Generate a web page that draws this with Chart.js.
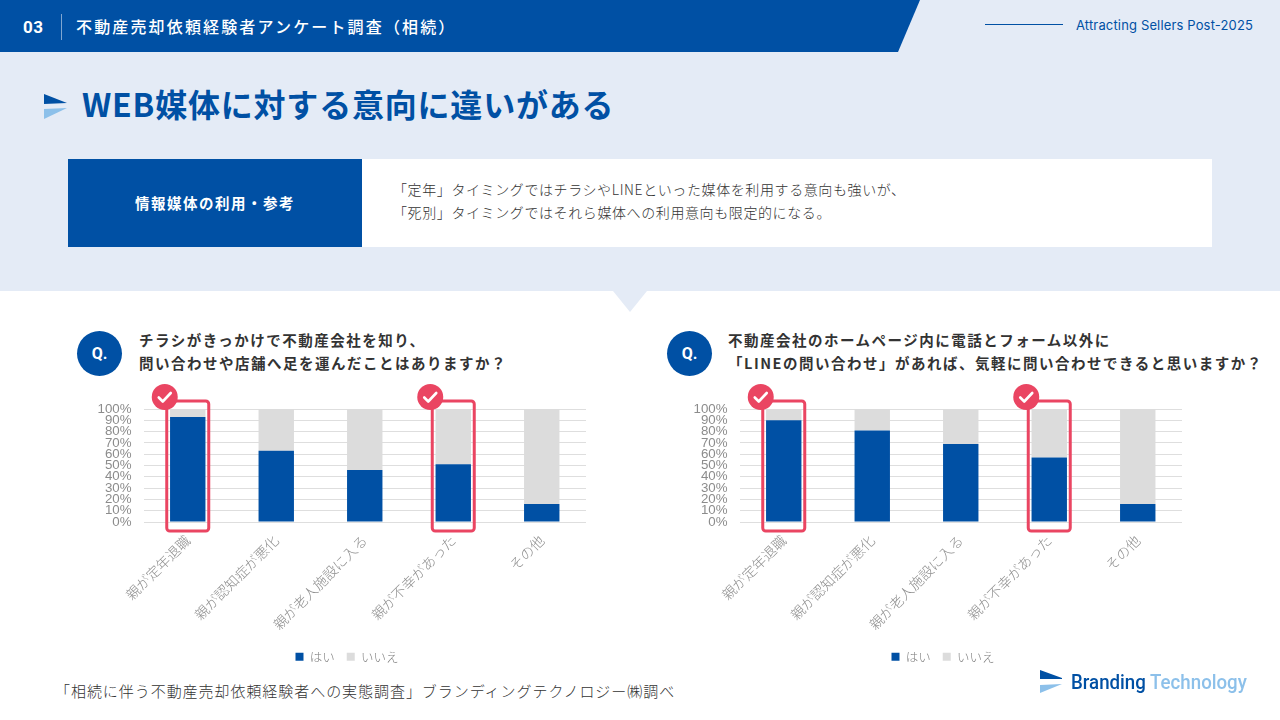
<!DOCTYPE html>
<html lang="ja">
<head>
<meta charset="utf-8">
<title>WEB媒体に対する意向に違いがある</title>
<script src="https://cdn.jsdelivr.net/npm/chart.js@4"></script>
<style>
html, body { margin: 0; padding: 0; }
body { width: 1280px; height: 720px; position: relative; overflow: hidden; background: #fff; font-family: "Noto Sans CJK JP", "Noto Sans", sans-serif; color: #333; }
.abs { position: absolute; white-space: nowrap; }
#top { left: 0; top: 0; width: 1280px; height: 291px; background: #e4ebf6; }
#notch { left: 613px; top: 291px; width: 34px; height: 21px; background: #e4ebf6; clip-path: polygon(0 0, 100% 0, 50% 100%); }
#bar { left: 0; top: 0; width: 920px; height: 52px; background: #0050a4; clip-path: polygon(0 0, 100% 0, 898px 100%, 0 100%); }
#num { left: 23px; top: 15px; font: bold 17px/24px "Roboto", sans-serif; color: #fff; letter-spacing: 0.5px; }
#sep { left: 61px; top: 14px; width: 1px; height: 26px; background: #7fa6d1; }
#head { left: 76px; top: 13px; font-weight: 500; font-size: 16px; line-height: 26px; color: #fff; letter-spacing: 2.15px; }
#rule { left: 985px; top: 24px; width: 78px; height: 1px; background: #0050a4; }
#tag { left: 1076px; top: 15px; font: 13px/20px "Inter", sans-serif; color: #0050a4; letter-spacing: 0.15px; }
#title { left: 82px; top: 79px; font-weight: 700; font-size: 32px; line-height: 48px; color: #0050a4; letter-spacing: 0.8px; }
#box { left: 68px; top: 159px; width: 1144px; height: 88px; background: #fff; }
#boxhead { left: 68px; top: 159px; width: 294px; height: 88px; background: #0050a4; color: #fff; font-weight: 700; font-size: 14.5px; line-height: 88px; text-align: center; letter-spacing: 1.5px; }
#boxtext { left: 393px; top: 178px; font-size: 14px; line-height: 23px; color: #333; font-weight: 300; letter-spacing: 0.6px; }
.q { width: 45px; height: 45px; top: 331px; border-radius: 50%; background: #0050a4; color: #fff; font: bold 16px/45px "Roboto", sans-serif; text-align: center; }
.ask { top: 328px; font-weight: 700; font-size: 14.5px; line-height: 23px; color: #333; letter-spacing: 1.5px; }
canvas { position: absolute; top: 378px; }
#note { left: 55px; top: 680px; font-size: 15px; line-height: 22px; color: #333; font-weight: 300; letter-spacing: 0.95px; }
#logotext { left: 1071px; top: 668px; font: 500 21px/28px "Roboto", sans-serif; color: #0050a4; transform: scaleX(0.89); transform-origin: left center; }
#logotext span { color: #8cc0ea; }
</style>
</head>
<body>
<div class="abs" id="top"></div>
<div class="abs" id="notch"></div>
<div class="abs" id="bar"></div>
<div class="abs" id="num">03</div>
<div class="abs" id="sep"></div>
<div class="abs" id="head">不動産売却依頼経験者アンケート調査（相続）</div>
<div class="abs" id="rule"></div>
<div class="abs" id="tag">Attracting Sellers Post-2025</div>

<svg class="abs" style="left:43px;top:92px" width="26" height="28" viewBox="0 0 26 28">
  <polygon points="1,2 24,11 1,12" fill="#0050a4"/>
  <polygon points="1,17 24,16 1,27" fill="#8cc0ea"/>
</svg>
<div class="abs" id="title">WEB媒体に対する意向に違いがある</div>

<div class="abs" id="box"></div>
<div class="abs" id="boxhead">情報媒体の利用・参考</div>
<div class="abs" id="boxtext">「定年」タイミングではチラシやLINEといった媒体を利用する意向も強いが、<br>「死別」タイミングではそれら媒体への利用意向も限定的になる。</div>

<div class="abs q" style="left:77px">Q.</div>
<div class="abs ask" style="left:139px">チラシがきっかけで不動産会社を知り、<br>問い合わせや店舗へ足を運んだことはありますか？</div>
<div class="abs q" style="left:667px">Q.</div>
<div class="abs ask" style="left:728px">不動産会社のホームページ内に電話とフォーム以外に<br>「LINEの問い合わせ」があれば、気軽に問い合わせできると思いますか？</div>

<canvas id="chartLeft" width="519" height="295" style="left:87px"></canvas>
<canvas id="chartRight" width="519" height="295" style="left:683px"></canvas>

<div class="abs" id="note">「相続に伴う不動産売却依頼経験者への実態調査」ブランディングテクノロジー㈱調べ</div>
<svg class="abs" style="left:1040px;top:669px" width="24" height="26" viewBox="0 0 24 26">
  <polygon points="0,1 22,9 22,10 0,10" fill="#0050a4"/>
  <polygon points="0,16 22,15 0,24" fill="#8cc0ea"/>
</svg>
<div class="abs" id="logotext">Branding <span>Technology</span></div>

<script>
const categories = ["親が定年退職", "親が認知症が悪化", "親が老人施設に入る", "親が不幸があった", "その他"];
const yTicks = [0, 10, 20, 30, 40, 50, 60, 70, 80, 90, 100];
const seriesNames = ["はい", "いいえ"];

const flyerYes = [93, 63, 46, 51, 16];
const flyerNo = [7, 37, 54, 49, 84];
const lineYes = [90, 81, 69, 57, 16];
const lineNo = [10, 19, 31, 43, 84];

// categories that get the red frame
const highlighted = [0, 3];

const BLUE = "#0050a4";
const GREY = "#dcdcdc";
const RED = "#ea4562";

// Frame and check badge around the highlighted bars
const framePlugin = {
    id: "frame",
    afterLayout(chart) {
        // legend sits centred under the whole block, not under the padded box
        chart.legend.left += 8;
        chart.legend.right += 8;
    },
    afterDatasetsDraw(chart) {
        const ctx = chart.ctx;
        const xScale = chart.scales.x;
        const top = chart.scales.y.getPixelForValue(100) - 8;
        const bottom = chart.scales.y.getPixelForValue(0) + 9;

        highlighted.forEach(index => {
            const center = xScale.getPixelForValue(index);

            ctx.save();
            ctx.strokeStyle = RED;
            ctx.lineWidth = 3;
            ctx.beginPath();
            ctx.roundRect(center - 21, top, 42, bottom - top, 3);
            ctx.stroke();

            const badgeX = center - 23;
            const badgeY = top - 4;
            ctx.fillStyle = RED;
            ctx.beginPath();
            ctx.arc(badgeX, badgeY, 13, 0, Math.PI * 2);
            ctx.fill();

            ctx.strokeStyle = "#fff";
            ctx.lineWidth = 2.6;
            ctx.lineCap = "round";
            ctx.lineJoin = "round";
            ctx.beginPath();
            ctx.moveTo(badgeX - 6, badgeY + 0.5);
            ctx.lineTo(badgeX - 2, badgeY + 4.5);
            ctx.lineTo(badgeX + 6, badgeY - 4);
            ctx.stroke();
            ctx.restore();
        });
    }
};

function makeChart(id, yesValues, noValues) {
    return new Chart(document.getElementById(id), {
        type: "bar",
        data: {
            labels: categories,
            datasets: [
                { label: seriesNames[0], data: yesValues, backgroundColor: BLUE },
                { label: seriesNames[1], data: noValues, backgroundColor: GREY }
            ]
        },
        options: {
            responsive: false,
            animation: false,
            devicePixelRatio: 1,
            barPercentage: 0.4,
            categoryPercentage: 1,
            layout: { padding: { top: 31, right: 20, left: 5, bottom: 0 } },
            plugins: {
                tooltip: { enabled: false },
                legend: {
                    position: "bottom",
                    labels: {
                        boxWidth: 8,
                        boxHeight: 8,
                        padding: 12,
                        color: "#808080",
                        font: { family: "'Noto Sans CJK JP'", size: 12.5, weight: "300" }
                    }
                }
            },
            scales: {
                x: {
                    stacked: true,
                    grid: { display: false },
                    border: { display: false },
                    ticks: {
                        autoSkip: false,
                        minRotation: 45,
                        maxRotation: 45,
                        padding: 2,
                        color: "#8f8f8f",
                        font: { family: "'Noto Sans CJK JP'", size: 14, weight: "300" }
                    },
                    afterFit: scale => { scale.height = 116.5; }
                },
                y: {
                    stacked: true,
                    min: 0,
                    max: 100,
                    grid: { color: "#dedede", lineWidth: 1, drawTicks: false },
                    border: { display: false },
                    afterBuildTicks: scale => { scale.ticks = yTicks.map(value => ({ value })); },
                    ticks: {
                        autoSkip: false,
                        padding: 12,
                        color: "#8c8c8c",
                        font: { family: "'Liberation Sans'", size: 13.3 },
                        callback: value => value + "%"
                    },
                    afterFit: scale => { scale.width = 51.5; }
                }
            }
        },
        plugins: [framePlugin]
    });
}

makeChart("chartLeft", flyerYes, flyerNo);
makeChart("chartRight", lineYes, lineNo);
</script>
</body>
</html>
